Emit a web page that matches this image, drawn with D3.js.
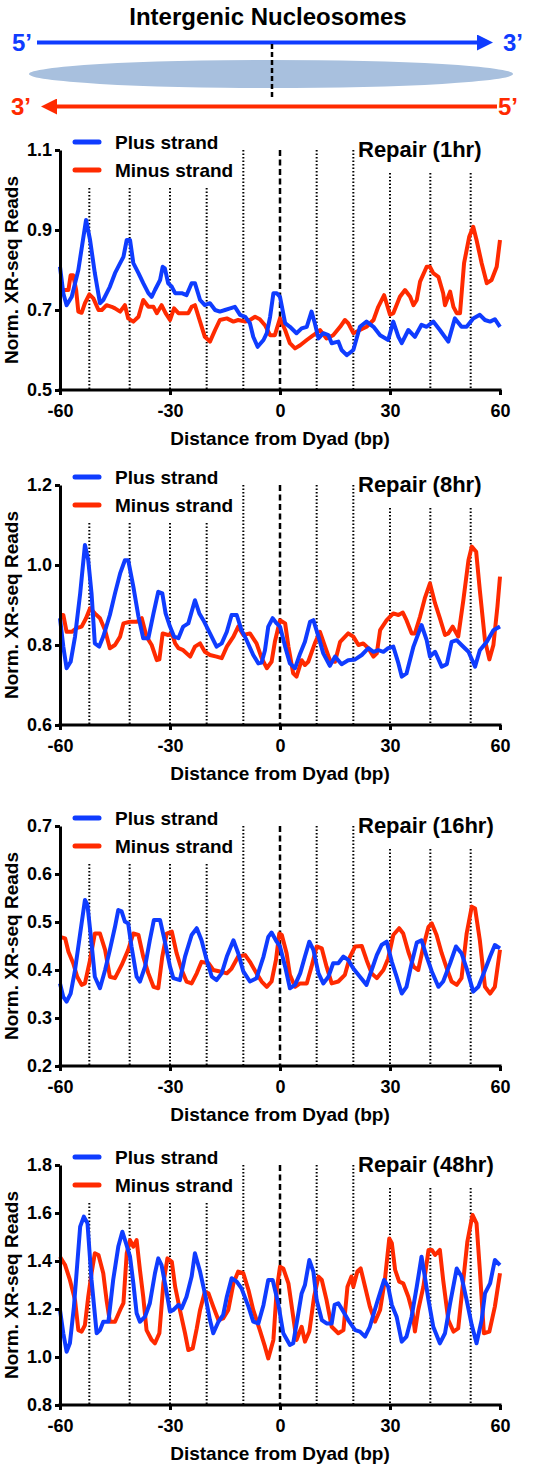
<!DOCTYPE html>
<html>
<head>
<meta charset="utf-8">
<script src="https://cdn.jsdelivr.net/npm/d3@7"></script>
<style>
  body { margin: 0; background: #fff; }
  text { font-family: "Liberation Sans", Arial, sans-serif; font-weight: bold; }
</style>
</head>
<body>
<svg id="chart" width="537" height="1466"></svg>
<script>
// values: [distance from dyad (bp), normalised XR-seq reads]
const plus1hr = [[-60,0.808],[-59.1,0.742],[-58.2,0.712],[-56.8,0.733],[-55,0.8],[-52.9,0.925],[-51.8,0.875],[-50.5,0.792],[-49.1,0.717],[-48.2,0.725],[-46.4,0.758],[-45,0.792],[-43.6,0.817],[-42.7,0.833],[-41.8,0.875],[-40.9,0.875],[-40,0.817],[-38.6,0.792],[-37.3,0.767],[-35.9,0.742],[-35,0.733],[-34.1,0.75],[-32.7,0.775],[-32,0.808],[-31.4,0.804],[-30.5,0.767],[-29.5,0.758],[-28.6,0.742],[-26.8,0.742],[-25.5,0.737],[-24.1,0.767],[-23.2,0.767],[-21.8,0.725],[-20.5,0.712],[-19.1,0.717],[-17.7,0.7],[-16.4,0.696],[-15,0.7],[-13.6,0.704],[-12.3,0.708],[-10.9,0.688],[-9.5,0.683],[-8.2,0.667],[-7.3,0.633],[-6.1,0.608],[-4.5,0.625],[-3.6,0.642],[-2.7,0.683],[-1.8,0.742],[-0.9,0.742],[0,0.733],[1.4,0.667],[2.7,0.658],[4.5,0.642],[5.9,0.654],[7.3,0.658],[8.6,0.696],[9.5,0.667],[10.5,0.629],[11.8,0.642],[13.2,0.637],[14.1,0.617],[15.9,0.621],[16.8,0.6],[18.2,0.587],[20,0.6],[21.8,0.658],[23.6,0.671],[25.5,0.658],[27.3,0.637],[29.5,0.625],[30.9,0.671],[32.3,0.633],[33.2,0.617],[35,0.65],[36.8,0.633],[38.6,0.663],[40,0.658],[41.8,0.671],[43.6,0.65],[45.9,0.621],[47.7,0.679],[49.5,0.658],[50.9,0.658],[52.7,0.679],[54.5,0.688],[55.9,0.675],[57.3,0.671],[58.6,0.677],[60,0.658]];
const minus1hr = [[-60,0.746],[-58.6,0.75],[-57.7,0.75],[-57.1,0.787],[-56.4,0.787],[-55.6,0.75],[-55,0.696],[-54.1,0.693],[-53.2,0.717],[-52,0.739],[-50.9,0.729],[-49.5,0.7],[-48.6,0.7],[-47.3,0.712],[-45.9,0.708],[-45,0.704],[-43.6,0.696],[-42.3,0.712],[-41.4,0.679],[-40,0.671],[-38.6,0.683],[-37.3,0.725],[-35.9,0.708],[-34.5,0.708],[-33.6,0.692],[-32.3,0.712],[-31.2,0.692],[-30,0.675],[-28.9,0.704],[-27.7,0.692],[-26.4,0.692],[-25,0.692],[-24.1,0.708],[-23.2,0.712],[-21.8,0.671],[-20.5,0.633],[-19.1,0.621],[-17.7,0.65],[-16.4,0.675],[-14.5,0.679],[-12.7,0.671],[-11.4,0.675],[-9.5,0.671],[-8.2,0.675],[-6.8,0.683],[-5.5,0.677],[-4.1,0.662],[-2.7,0.637],[-1.4,0.637],[0,0.679],[1.4,0.65],[2.7,0.617],[4.1,0.604],[5.5,0.612],[7.3,0.625],[9.1,0.637],[10.9,0.65],[12.7,0.629],[14.5,0.637],[16.4,0.658],[17.7,0.675],[18.6,0.667],[20,0.642],[21.8,0.65],[23.6,0.658],[25.5,0.675],[26.8,0.708],[28.4,0.737],[30,0.688],[30.9,0.692],[32.7,0.733],[34.1,0.75],[35.5,0.733],[36.4,0.712],[37.3,0.725],[38.2,0.771],[40,0.808],[40.9,0.808],[41.8,0.792],[43.2,0.783],[44.5,0.742],[45,0.712],[46.4,0.746],[47.3,0.708],[48.2,0.692],[49.1,0.692],[50.2,0.817],[51.6,0.883],[52.7,0.908],[53.6,0.875],[55,0.817],[56.4,0.767],[57.7,0.775],[59.1,0.808],[60,0.875]];

const plus8hr = [[-60,0.867],[-59.1,0.796],[-58.2,0.742],[-57.1,0.758],[-55.9,0.821],[-54.5,0.929],[-53.2,1.05],[-52.3,1.012],[-51.4,0.929],[-50.5,0.804],[-49.3,0.796],[-48.2,0.821],[-46.4,0.875],[-45,0.929],[-43.6,0.979],[-42.3,1.012],[-41.4,1.012],[-40,0.946],[-38.6,0.871],[-37.3,0.817],[-35.9,0.817],[-34.5,0.879],[-33.2,0.933],[-32.1,0.929],[-31.2,0.879],[-30,0.846],[-28.9,0.821],[-27.7,0.817],[-26.4,0.846],[-25,0.854],[-23.2,0.912],[-22,0.879],[-20.9,0.862],[-19.1,0.829],[-17.3,0.796],[-15.9,0.804],[-14.5,0.833],[-13.2,0.875],[-11.8,0.875],[-10.5,0.837],[-9.1,0.812],[-7.3,0.775],[-5.9,0.754],[-5,0.756],[-4.1,0.787],[-3.2,0.846],[-2,0.867],[-0.9,0.854],[0,0.846],[1.4,0.796],[2.7,0.754],[4.1,0.742],[5.5,0.779],[6.8,0.808],[8.2,0.858],[9.1,0.862],[10.5,0.821],[11.8,0.779],[13.6,0.748],[15,0.771],[16.8,0.752],[18.6,0.762],[20.5,0.764],[22.3,0.775],[24.1,0.792],[25.5,0.783],[26.8,0.787],[28.2,0.783],[29.5,0.792],[30.9,0.796],[32.3,0.754],[33.2,0.721],[34.5,0.729],[36.4,0.796],[38.6,0.85],[40,0.812],[40.9,0.771],[42.3,0.783],[44.1,0.746],[45.5,0.752],[46.8,0.808],[48.2,0.812],[49.5,0.8],[51.4,0.783],[53.2,0.746],[54.5,0.787],[56.4,0.808],[58.2,0.837],[60,0.846]];
const minus8hr = [[-60,0.875],[-59.1,0.875],[-58.2,0.833],[-56.8,0.833],[-55.5,0.842],[-54.1,0.846],[-52.9,0.867],[-51.8,0.892],[-50.5,0.879],[-49.1,0.867],[-47.7,0.837],[-46.4,0.792],[-45,0.8],[-43.6,0.821],[-42.7,0.854],[-40.9,0.858],[-39.1,0.858],[-37.7,0.867],[-36.4,0.821],[-35,0.8],[-33.6,0.762],[-32.9,0.764],[-32,0.829],[-30.5,0.825],[-29.5,0.829],[-28.6,0.804],[-27.7,0.792],[-26.4,0.787],[-24.5,0.771],[-23.2,0.796],[-21.8,0.804],[-20.5,0.783],[-19.1,0.775],[-17.3,0.771],[-15.9,0.767],[-14.5,0.796],[-12.7,0.821],[-11.4,0.846],[-10,0.825],[-8.2,0.829],[-6.4,0.804],[-5,0.767],[-3.6,0.742],[-2.3,0.758],[-1.4,0.808],[0,0.862],[1.4,0.854],[2.3,0.796],[3.6,0.729],[4.5,0.721],[5.9,0.762],[6.8,0.75],[7.7,0.758],[9.5,0.804],[10.9,0.833],[12.3,0.796],[13.6,0.762],[15,0.758],[16.4,0.808],[18.6,0.829],[20,0.821],[21.4,0.8],[22.7,0.804],[24.1,0.792],[25.5,0.771],[26.4,0.779],[27.3,0.837],[29.1,0.862],[30.9,0.879],[32.3,0.875],[33.5,0.881],[34.5,0.862],[35.9,0.829],[36.8,0.829],[38.2,0.871],[39.5,0.917],[40.9,0.954],[42.3,0.904],[43.6,0.867],[45,0.825],[45.9,0.829],[47.1,0.846],[48.6,0.821],[50,0.912],[51.4,1.012],[52.3,1.046],[53.5,1.033],[54.5,0.937],[55.9,0.812],[57.1,0.764],[58.2,0.8],[59.3,0.896],[60,0.971]];

const plus16hr = [[-60,0.372],[-59.1,0.344],[-58.2,0.334],[-57.1,0.351],[-55.9,0.4],[-54.5,0.476],[-53.2,0.546],[-52.5,0.535],[-51.4,0.456],[-50.5,0.386],[-49.1,0.362],[-47.7,0.4],[-46.4,0.442],[-45,0.49],[-44.1,0.525],[-43.2,0.522],[-42.3,0.501],[-41.4,0.497],[-40.5,0.449],[-39.1,0.386],[-38.2,0.376],[-36.8,0.407],[-35.5,0.462],[-34.4,0.504],[-32.7,0.504],[-31.4,0.459],[-30,0.407],[-29.1,0.383],[-27.3,0.379],[-25.9,0.428],[-24.1,0.473],[-22.7,0.487],[-21.4,0.462],[-20,0.421],[-18.6,0.386],[-17.3,0.379],[-15.9,0.393],[-14.5,0.428],[-12.7,0.462],[-11.4,0.435],[-10,0.397],[-8.2,0.376],[-6.4,0.383],[-4.5,0.428],[-3.2,0.469],[-2.3,0.478],[-0.9,0.459],[0,0.449],[1.4,0.407],[2.7,0.362],[4.1,0.369],[5.5,0.393],[6.8,0.428],[8,0.459],[9.1,0.442],[10.5,0.393],[11.8,0.372],[13.2,0.386],[14.5,0.414],[15.9,0.414],[17.3,0.428],[18.6,0.421],[20,0.403],[21.8,0.386],[23.6,0.369],[25,0.4],[26.4,0.431],[27.7,0.452],[29.1,0.459],[30.5,0.417],[31.8,0.386],[33.2,0.351],[34.5,0.365],[35.9,0.414],[37.3,0.457],[38.6,0.462],[40,0.428],[41.4,0.397],[43.2,0.365],[44.5,0.376],[46.4,0.414],[48,0.449],[49.5,0.435],[50.9,0.403],[52.7,0.355],[54.1,0.365],[55.9,0.4],[57.3,0.428],[58.6,0.452],[60,0.445]];
const minus16hr = [[-60,0.469],[-58.6,0.466],[-57.7,0.438],[-56.4,0.414],[-55.3,0.386],[-54.1,0.369],[-53.2,0.372],[-51.8,0.421],[-50.5,0.476],[-49.1,0.476],[-47.7,0.442],[-46.4,0.386],[-45,0.383],[-43.2,0.41],[-41.4,0.442],[-40,0.476],[-38.6,0.473],[-37.3,0.428],[-35.9,0.393],[-34.5,0.365],[-33.2,0.362],[-32.1,0.428],[-30.9,0.476],[-29.5,0.48],[-28.2,0.435],[-26.8,0.4],[-25.5,0.376],[-24.1,0.372],[-22.7,0.393],[-21.4,0.417],[-19.5,0.414],[-18.2,0.4],[-16.4,0.397],[-14.5,0.393],[-13.2,0.403],[-11.4,0.428],[-9.5,0.431],[-8.2,0.417],[-6.4,0.393],[-5,0.376],[-3.6,0.365],[-2.3,0.376],[-1.1,0.421],[-0.2,0.476],[0.5,0.473],[1.8,0.435],[2.7,0.39],[4.1,0.365],[5.5,0.372],[7.3,0.372],[8.6,0.407],[10,0.449],[11.4,0.445],[12.7,0.407],[14.1,0.372],[15.9,0.376],[17.7,0.39],[19.1,0.428],[20.5,0.449],[22.3,0.45],[23.6,0.421],[25,0.393],[26.4,0.383],[28.2,0.4],[29.5,0.424],[30.9,0.473],[32.5,0.487],[33.6,0.476],[35,0.438],[36.4,0.407],[37.7,0.4],[39.1,0.449],[40.5,0.49],[41.4,0.497],[42.7,0.473],[44.1,0.435],[45.5,0.403],[46.8,0.376],[48.2,0.369],[49.5,0.383],[50.9,0.476],[52.3,0.532],[53.2,0.528],[54.5,0.462],[55.9,0.365],[57.3,0.351],[58.6,0.365],[60,0.442]];

const plus48hr = [[-60,1.196],[-59.1,1.099],[-58.2,1.022],[-57.3,1.057],[-56.2,1.21],[-54.5,1.543],[-53.5,1.585],[-52.5,1.557],[-51.4,1.321],[-50,1.099],[-49.1,1.112],[-48.2,1.147],[-46.8,1.147],[-45.5,1.321],[-44.1,1.46],[-43,1.522],[-42,1.474],[-40.9,1.418],[-40,1.307],[-39.1,1.182],[-38.2,1.147],[-36.8,1.168],[-35.5,1.224],[-34.1,1.349],[-33.2,1.411],[-32.3,1.383],[-31.2,1.293],[-30,1.189],[-29.1,1.196],[-27.7,1.217],[-26.8,1.203],[-25.5,1.251],[-24.1,1.335],[-23.2,1.432],[-21.8,1.356],[-20.5,1.265],[-19.1,1.154],[-18.2,1.099],[-16.8,1.147],[-15.5,1.175],[-14.5,1.251],[-13.2,1.328],[-11.8,1.314],[-10.5,1.286],[-8.6,1.21],[-7.3,1.147],[-5.9,1.14],[-4.5,1.217],[-3.2,1.321],[-2,1.321],[-0.5,1.224],[0.9,1.099],[2.7,1.05],[3.6,1.057],[5,1.182],[5.9,1.265],[6.8,1.3],[8,1.404],[9.1,1.356],[10,1.237],[11.4,1.154],[12.7,1.14],[14.1,1.14],[14.9,1.217],[15.9,1.224],[17.3,1.189],[18.6,1.154],[20.5,1.112],[21.8,1.106],[23.2,1.085],[24.5,1.126],[26.4,1.224],[28.4,1.321],[29.5,1.293],[30.5,1.217],[31.8,1.168],[33.2,1.064],[34.5,1.085],[35.9,1.168],[37.3,1.293],[38.6,1.418],[39.5,1.335],[40.5,1.237],[41.8,1.126],[43.6,1.057],[45,1.099],[46.4,1.224],[48.2,1.369],[49.5,1.335],[50.9,1.237],[52.3,1.133],[53.6,1.057],[55,1.154],[55.9,1.265],[57.3,1.307],[58.6,1.404],[60,1.383]];
const minus48hr = [[-60,1.418],[-58.6,1.383],[-57.3,1.321],[-55.9,1.237],[-55,1.112],[-54.1,1.106],[-53.2,1.133],[-52.3,1.251],[-51.4,1.349],[-50.5,1.432],[-49.5,1.425],[-48.2,1.349],[-47.3,1.237],[-46.4,1.147],[-45,1.147],[-43.6,1.196],[-42.7,1.224],[-41.8,1.432],[-40.9,1.487],[-40,1.46],[-39.1,1.487],[-38.2,1.363],[-37.3,1.251],[-36.4,1.112],[-35,1.071],[-34.1,1.057],[-32.9,1.099],[-31.8,1.307],[-30.7,1.411],[-29.5,1.397],[-28.6,1.293],[-27.3,1.196],[-25.9,1.099],[-25,1.029],[-23.8,1.036],[-22.7,1.119],[-21.8,1.196],[-20.5,1.272],[-19.5,1.265],[-18.2,1.21],[-16.8,1.154],[-15.5,1.161],[-14.1,1.196],[-12.7,1.307],[-11.4,1.356],[-10,1.349],[-8.6,1.279],[-7.3,1.196],[-5.5,1.112],[-4.1,1.043],[-3.2,0.994],[-1.8,1.071],[-0.9,1.279],[0,1.376],[0.9,1.369],[2.3,1.307],[3.6,1.168],[4.5,1.071],[5.9,1.126],[6.8,1.064],[8,1.106],[9.3,1.251],[10.5,1.335],[11.4,1.321],[12.7,1.237],[14.1,1.126],[15.9,1.099],[17.3,1.112],[18.4,1.293],[19.5,1.335],[20,1.293],[21.1,1.356],[22,1.369],[23.2,1.293],[24.5,1.21],[25.9,1.147],[27.3,1.196],[28.6,1.321],[29.8,1.494],[30.5,1.474],[31.4,1.363],[32.5,1.314],[33.6,1.307],[35,1.251],[36.2,1.182],[36.8,1.106],[37.7,1.196],[39.1,1.293],[40.5,1.446],[41.4,1.446],[42.3,1.425],[43.6,1.446],[44.5,1.321],[45.9,1.154],[47.3,1.106],[48.6,1.119],[50,1.321],[51.1,1.481],[52.5,1.592],[53.6,1.557],[54.5,1.363],[55.6,1.099],[57.1,1.106],[58.6,1.21],[60,1.349]];

const titles = ['Repair (1hr)', 'Repair (8hr)', 'Repair (16hr)', 'Repair (48hr)'];
const yTicks1hr = [0.5, 0.7, 0.9, 1.1];
const yTicks8hr = [0.6, 0.8, 1.0, 1.2];
const yTicks16hr = [0.2, 0.3, 0.4, 0.5, 0.6, 0.7];
const yTicks48hr = [0.8, 1.0, 1.2, 1.4, 1.6, 1.8];
const xTicks = [-60, -30, 0, 30, 60];
const dyadMarks = [-52, -41, -30, -20, -10, 10, 20, 30, 41, 52];
const legendLabels = ['Plus strand', 'Minus strand'];

const BLUE = '#0f3cff';
const RED = '#ff2a00';

const panels = [
  { title: titles[0], plus: plus1hr, minus: minus1hr, ticks: yTicks1hr, top: 150 },
  { title: titles[1], plus: plus8hr, minus: minus8hr, ticks: yTicks8hr, top: 485 },
  { title: titles[2], plus: plus16hr, minus: minus16hr, ticks: yTicks16hr, top: 826 },
  { title: titles[3], plus: plus48hr, minus: minus48hr, ticks: yTicks48hr, top: 1165 },
];

const svg = d3.select('#chart');
const plotH = 240;
const x = d3.scaleLinear().domain([-60, 60]).range([60, 500]);

// ---- schematic at the top
const defs = svg.append('defs');
const head = (id, color) => defs.append('marker')
  .attr('id', id).attr('viewBox', '0 0 10 10').attr('refX', 0).attr('refY', 5)
  .attr('markerWidth', 6.2).attr('markerHeight', 4).attr('markerUnits', 'strokeWidth')
  .attr('orient', 'auto')
  .append('path').attr('d', 'M0,0L10,5L0,10Z').attr('fill', color);
head('blueHead', BLUE);
head('redHead', RED);

svg.append('text').attr('x', 268).attr('y', 25).attr('text-anchor', 'middle')
  .style('font-size', '24px').text('Intergenic Nucleosomes');

svg.append('ellipse').attr('cx', 271).attr('cy', 74).attr('rx', 242).attr('ry', 14)
  .attr('fill', '#a8c0de');

svg.append('line').attr('x1', 37).attr('x2', 477).attr('y1', 42.5).attr('y2', 42.5)
  .attr('stroke', BLUE).attr('stroke-width', 4).attr('marker-end', 'url(#blueHead)');
svg.append('line').attr('x1', 497).attr('x2', 57).attr('y1', 106.5).attr('y2', 106.5)
  .attr('stroke', RED).attr('stroke-width', 4).attr('marker-end', 'url(#redHead)');

svg.append('line').attr('x1', 272).attr('x2', 272).attr('y1', 44).attr('y2', 100)
  .attr('stroke', '#000').attr('stroke-width', 2.5).attr('stroke-dasharray', '5,3');

const ends = [
  { t: '5\u2019', x: 12, y: 51, c: BLUE }, { t: '3\u2019', x: 503, y: 51, c: BLUE },
  { t: '3\u2019', x: 11, y: 115, c: RED }, { t: '5\u2019', x: 498, y: 115, c: RED },
];
svg.selectAll('text.end').data(ends).enter().append('text')
  .attr('class', 'end').attr('x', d => d.x).attr('y', d => d.y)
  .attr('fill', d => d.c).style('font-size', '24px').text(d => d.t);

// plain hyphen for negatives, as in the figure
const fmtX = d => String(d);

// ---- the four repair panels
panels.forEach(p => {
  const top = p.top, bottom = top + plotH;
  const y = d3.scaleLinear().domain(d3.extent(p.ticks)).range([bottom, top]);
  const g = svg.append('g');

  // dotted nucleosome marks, shortened where legend / title sit
  g.selectAll('line.mark').data(dyadMarks).enter().append('line')
    .attr('x1', d => x(d)).attr('x2', d => x(d))
    .attr('y1', d => {
      if (d === -10 || d === 10 || d === 20) return top;
      return d < 0 ? top + 38 : top + 23;
    })
    .attr('y2', bottom)
    .attr('stroke', '#000').attr('stroke-width', 2).attr('stroke-dasharray', '1.5,2');

  g.append('line').attr('x1', x(0)).attr('x2', x(0)).attr('y1', top).attr('y2', bottom)
    .attr('stroke', '#000').attr('stroke-width', 2.5).attr('stroke-dasharray', '6,3.5');

  const line = d3.line().x(d => x(d[0])).y(d => y(d[1]));
  g.append('path').datum(p.minus).attr('d', line)
    .attr('fill', 'none').attr('stroke', RED).attr('stroke-width', 4).attr('stroke-linejoin', 'round');
  g.append('path').datum(p.plus).attr('d', line)
    .attr('fill', 'none').attr('stroke', BLUE).attr('stroke-width', 4).attr('stroke-linejoin', 'round');

  const yAxis = g.append('g').attr('transform', `translate(60,0)`)
    .call(d3.axisLeft(y).tickValues(p.ticks).tickFormat(d3.format('.1f')).tickSize(5).tickSizeOuter(0).tickPadding(3));
  const xAxis = g.append('g').attr('transform', `translate(0,${bottom})`)
    .call(d3.axisBottom(x).tickValues(xTicks).tickFormat(fmtX).tickSize(5).tickSizeOuter(0).tickPadding(9));
  [yAxis, xAxis].forEach(a => {
    a.selectAll('path, line').attr('stroke', '#000').attr('stroke-width', 3);
    a.selectAll('text').attr('fill', '#000')
      .style('font-size', '18px').style('font-family', '"Liberation Sans", Arial, sans-serif').style('font-weight', 'bold');
  });
  xAxis.select('.domain').attr('d', `M${x(-60) - 1.5},0H${x(60) + 1.5}`);

  g.append('text').attr('x', 280).attr('y', bottom + 55).attr('text-anchor', 'middle')
    .style('font-size', '19px').text('Distance from Dyad (bp)');
  g.append('text').attr('transform', `translate(18,${top + plotH / 2}) rotate(-90)`)
    .attr('text-anchor', 'middle').style('font-size', '19px').text('Norm. XR-seq Reads');

  g.append('text').attr('x', 358).attr('y', top + 7).style('font-size', '22px').text(p.title);

  const leg = g.selectAll('g.leg').data(legendLabels).enter().append('g')
    .attr('transform', (d, i) => `translate(0,${top - 8 + i * 28})`);
  leg.append('line').attr('x1', 75).attr('x2', 99)
    .attr('stroke', (d, i) => i === 0 ? BLUE : RED).attr('stroke-width', 5).attr('stroke-linecap', 'round');
  leg.append('text').attr('x', 115).attr('y', 7).style('font-size', '19px').text(d => d);
});
</script>
</body>
</html>
